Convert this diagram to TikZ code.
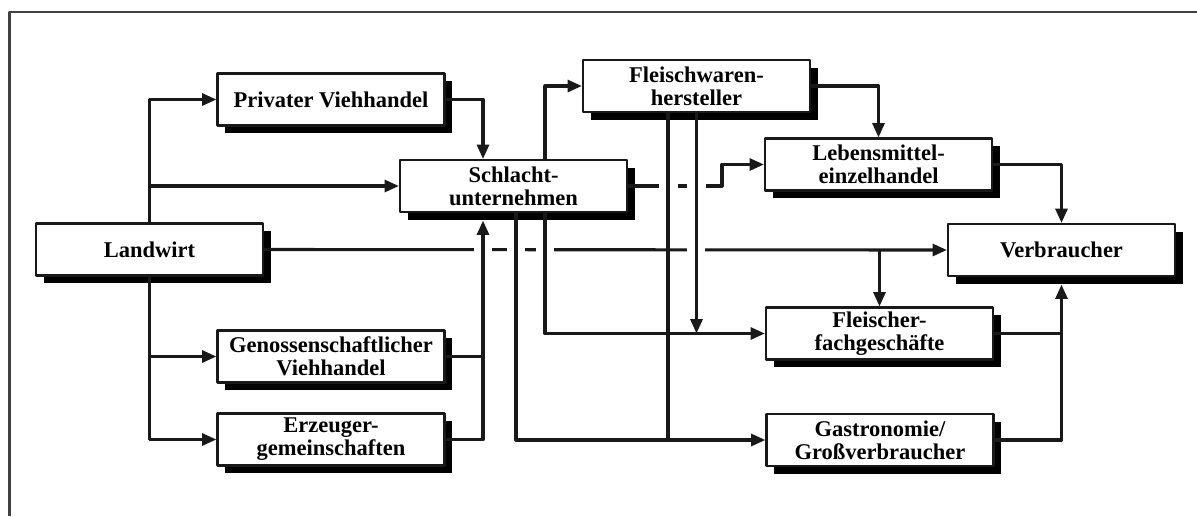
\documentclass[tikz,border=0pt]{standalone}
\usepackage{fontspec}
\setmainfont{Liberation Serif}
\usetikzlibrary{arrows.meta,shadows,calc}
\begin{document}
\begin{tikzpicture}[x=0.025cm, y=-0.025cm, line join=round,
  box/.style={draw=black!90, line width=1.5pt, fill=white,
    minimum width=5.675cm, minimum height=1.3cm, inner sep=0pt, align=center,
    font=\bfseries\fontsize{16}{16.5}\selectfont,
    drop shadow={shadow xshift=0.19cm, shadow yshift=-0.19cm, fill=black, opacity=1}},
  link/.style={line width=2.2pt, black!90},
  arr/.style={link, -{Triangle[length=0.36cm,width=0.3cm]}},
  gap/.style={fill=white}]
\useasboundingbox (0,0) rectangle (1197,516);
\draw[line width=1.8pt, black!75] (9.5,516) -- (9.5,12) -- (1197,12);

\node[box] (land)    at (149.5,249.5) {Landwirt};
\node[box] (priv)    at (331,99.5)    {Privater Viehhandel};
\node[box] (geno)    at (331,356.5)   {Genossenschaftlicher\\Viehhandel};
\node[box] (erz)     at (331,439.5)   {Erzeuger-\\gemeinschaften};
\node[box] (schl)    at (513.5,186)   {Schlacht-\\unternehmen};
\node[box] (fleiw)   at (696.5,86)    {Fleischwaren-\\hersteller};
\node[box] (lebm)    at (878.5,164.5) {Lebensmittel-\\einzelhandel};
\node[box] (fleisch) at (879.5,333.5) {Fleischer-\\fachgeschäfte};
\node[box] (gastro)  at (880,440)     {Gastronomie/\\Großverbraucher};
\node[box] (verb)    at (1061.5,250)  {Verbraucher};

\coordinate (ein) at (483,0);
\coordinate (gastroweg) at (516,0);
\coordinate (fleischweg) at (545,0);
\coordinate (fwgastro) at (668,0);
\coordinate (knick) at (722,186);

% Landwirt
\draw[arr] (land.north) |- (priv.west);
\draw[arr] (land.north |- schl.west) -- (schl.west);
\draw[arr] (land.south) |- (erz.west);
\draw[arr] (land.south |- geno.west) -- (geno.west);
\draw[arr] (land.east) -- (verb.west);
\draw[arr] (fleisch.north |- verb.west) -- (fleisch.north);

% Schlachtunternehmen
\draw[arr] (priv.east) -| (ein |- schl.north);
\draw[arr] (fleischweg |- schl.north) |- (fleiw.west);
\draw[arr] (schl.east) -- (knick) |- (lebm.west);

\foreach \x in {483,516,545,696}
    \fill[gap] (\x-9,243) rectangle (\x+9,257);
\foreach \x in {668,696}
    \fill[gap] (\x-9,179) rectangle (\x+10,193);

\draw[link] (geno.east) -- (ein |- geno.east);
\draw[arr] (erz.east) -| ($(ein |- schl.south)+(0,7.5)$);
\draw[arr] (gastroweg |- schl.south) |- (gastro.west);
\draw[arr] (fleischweg |- schl.south) |- (fleisch.west);

% Fleischwarenhersteller
\draw[link] (fwgastro |- fleiw.south) -- (fwgastro |- gastro.west);
\draw[arr] (fleiw.south) -- (fleiw.south |- fleisch.west);
\draw[arr] (fleiw.east) -| (lebm.north);

% Verbraucher
\draw[arr] (lebm.east) -| (verb.north);
\draw[link] (fleisch.east) -- (verb.south |- fleisch.east);
\draw[arr] (gastro.east) -| ($(verb.south)+(0,7.5)$);
\end{tikzpicture}
\end{document}
